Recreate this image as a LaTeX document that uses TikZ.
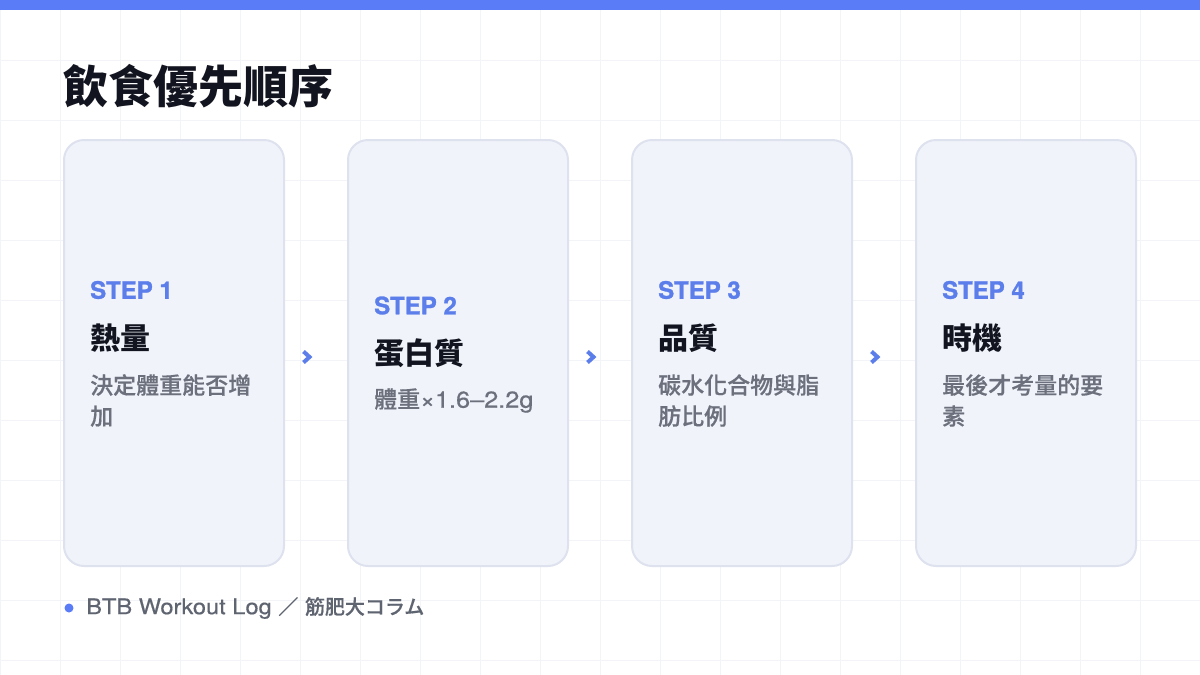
\documentclass[tikz,border=0pt]{standalone}
\usepackage{fontspec}
\newfontfamily\heros{texgyreheros}[Extension=.otf,UprightFont=*-regular,BoldFont=*-bold,BoldFeatures={FakeBold=1.2}]
\newfontfamily\latfont{texgyreheros}[Extension=.otf,UprightFont=*-regular,FakeStretch=1.1,FakeBold=0.5]
\newfontfamily\cjkblack{Noto Sans CJK TC Black}
\newfontfamily\cjkmed{Noto Sans CJK TC Medium}[FakeBold=0.5]
\definecolor{barblue}{HTML}{5B7CF7}
\definecolor{stepblue}{HTML}{5B7EEA}
\definecolor{gridgray}{HTML}{F3F4F7}
\definecolor{cardfill}{HTML}{F1F3FA}
\definecolor{cardline}{HTML}{DEE2EE}
\definecolor{inkdark}{HTML}{12141F}
\definecolor{descgray}{HTML}{6B707C}
\definecolor{footgray}{HTML}{5F6471}
\begin{document}
\begin{tikzpicture}[x=1pt,y=-1pt,
    card/.style={draw=cardline,line width=2pt,fill=cardfill,rounded corners=20pt,
      minimum width=220pt,minimum height=426pt,inner sep=0pt,outer sep=0pt},
    steplabel/.style={anchor=west,inner sep=0pt,text=stepblue,font=\heros\bfseries\fontsize{24}{28}\selectfont},
    cardtitle/.style={anchor=west,inner sep=0pt,text=inkdark,font=\cjkblack\fontsize{30}{36}\selectfont},
    carddesc/.style={anchor=west,inner sep=0pt,align=left,text=descgray,font=\cjkmed\fontsize{23}{31}\selectfont},
    chev/.style={draw=stepblue,line width=4pt,line join=miter}]
    \useasboundingbox (0,0) rectangle (1200,675);
    \fill[white] (0,0) rectangle (1200,675);
    \draw[gridgray,line width=1pt,step=60pt] (0,0) grid (1200,675);
    \fill[barblue] (0,0) rectangle (1200,10);
    \node[anchor=west,inner sep=0pt,text=inkdark,font=\cjkblack\fontsize{45}{54}\selectfont] (title) at (63,86) {飲食優先順序};
    \foreach \i/\name/\desc/\s in {1/熱量/決定體重能否增\\加/0,
        2/蛋白質/{{\cjkmed 體重}{\latfont ×1.6–2.2g}}/15.5,
        3/品質/碳水化合物與脂\\肪比例/0,
        4/時機/最後才考量的要\\素/0}{
       \node[card] (card\i) at ({174+284*(\i-1)},353) {};
       \node[steplabel] (step\i) at ([shift={(26,-63+\s)}]card\i.west) {STEP \i};
       \node[cardtitle] (name\i) at ([shift={(26,-15+\s)}]card\i.west) {\name};
       \node[carddesc] (desc\i) at ([shift={(26,47.5)}]card\i.west) {\desc};
    }
    \foreach \i in {1,2,3}{
       \coordinate (gap\i) at ({307+284*(\i-1)},357); % 卡片之间的箭头
       \draw[chev] ([shift={(-3.5,-5.5)}]gap\i) -- ([shift={(2.5,0)}]gap\i) -- ([shift={(-3.5,5.5)}]gap\i);
    }
    \node[circle,fill=barblue,inner sep=0pt,minimum size=9pt] (dot) at (69,608) {};
    \node[anchor=west,inner sep=0pt,text=footgray,font=\latfont\fontsize{21.5}{26}\selectfont] (foot) at (86,608)
       {BTB Workout Log {\cjkmed\fontsize{20}{26}\selectfont ／} {\cjkmed\fontsize{20}{26}\selectfont 筋肥大コラム}};
\end{tikzpicture}
\end{document}
